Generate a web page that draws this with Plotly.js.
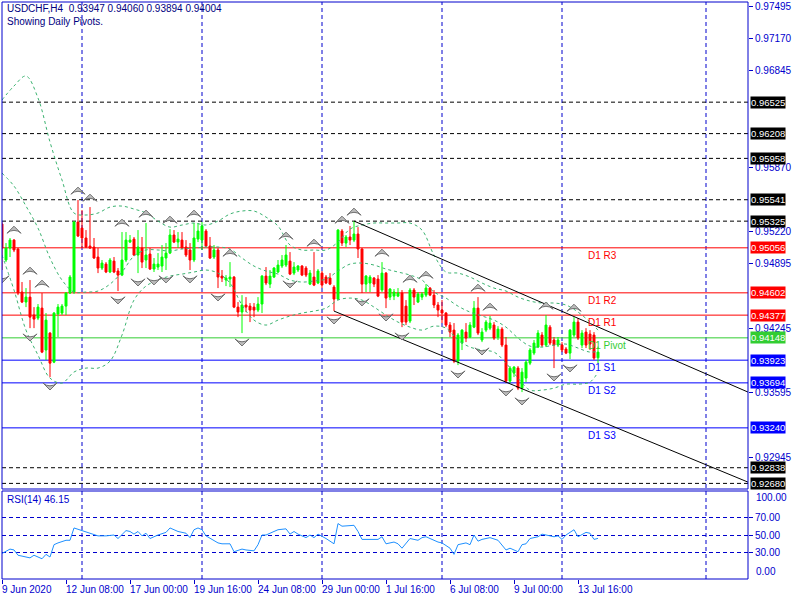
<!DOCTYPE html>
<html><head><meta charset="utf-8">
<script src="https://cdn.plot.ly/plotly-3.0.1.min.js"></script>
<style>html,body{margin:0;padding:0;background:#fff;}#chart{width:800px;height:600px;}</style>
</head><body><div id="chart"></div>
<script>
// ---------------- DATA ----------------
const symbolTitle = "USDCHF,H4";
const lastOHLC = ["0.93947", "0.94060", "0.93894", "0.94004"];
const subTitle = "Showing Daily Pivots.";
const rsiTitle = "RSI(14) 46.15";

const openP = [0.95296,0.94933,0.95054,0.95134,0.95044,0.94610,0.94509,0.94559,0.94378,0.94347,
0.94448,0.94025,0.94196,0.93903,0.94388,0.94398,0.94468,0.94600,0.94610,0.95316,
0.95255,0.95155,0.95074,0.95064,0.94963,0.94852,0.94892,0.94812,0.94922,0.94822,
0.94781,0.94933,0.95114,0.95144,0.94983,0.95054,0.94933,0.94993,0.94842,0.94862,
0.94872,0.94953,0.95003,0.95185,0.95114,0.95134,0.95064,0.95034,0.94933,0.95144,
0.95134,0.95225,0.95074,0.94963,0.95034,0.94771,0.94731,0.94741,0.94761,0.94458,
0.94408,0.94479,0.94468,0.94458,0.94428,0.94489,0.94771,0.94690,0.94761,0.94812,
0.94872,0.94882,0.94922,0.94801,0.94832,0.94872,0.94852,0.94690,0.94761,0.94701,
0.94801,0.94761,0.94751,0.94660,0.94539,0.95225,0.95104,0.95165,0.95134,0.95195,
0.95044,0.94690,0.94701,0.94751,0.94741,0.94630,0.94801,0.94559,0.94569,0.94569,
0.94600,0.94468,0.94317,0.94630,0.94509,0.94559,0.94579,0.94650,0.94579,0.94479,
0.94428,0.94398,0.94277,0.94226,0.93913,0.94095,0.94206,0.94156,0.94256,0.94448,
0.94126,0.94226,0.94246,0.94277,0.94156,0.94236,0.94075,0.93712,0.93792,0.93843,
0.93641,0.93742,0.93893,0.93994,0.94055,0.94176,0.94075,0.94256,0.94126,0.94075,
0.94075,0.94035,0.93994,0.94176,0.94307,0.94075,0.94206,0.94186,0.94176,0.93947];

const highP = [0.95316,0.95104,0.95155,0.95144,0.95054,0.94711,0.94650,0.94731,0.94458,0.94489,
0.94600,0.94398,0.94206,0.94408,0.94489,0.94489,0.94610,0.94781,0.95326,0.95538,
0.95437,0.95235,0.95467,0.95155,0.95054,0.94933,0.94912,0.94953,0.94963,0.94852,
0.95215,0.95215,0.95185,0.95165,0.95235,0.95165,0.95306,0.95054,0.94953,0.95003,
0.95084,0.95104,0.95245,0.95235,0.95215,0.95215,0.95134,0.95104,0.95306,0.95306,
0.95316,0.95245,0.95165,0.95084,0.95054,0.94832,0.94781,0.94912,0.94771,0.94509,
0.94579,0.94559,0.94499,0.94499,0.94559,0.94781,0.94862,0.94832,0.94862,0.94933,
0.94983,0.95084,0.95013,0.94912,0.94882,0.94882,0.94872,0.94832,0.95013,0.94842,
0.94822,0.94781,0.94801,0.94680,0.95245,0.95245,0.95185,0.95276,0.95326,0.95265,
0.95054,0.94781,0.94781,0.94761,0.94781,0.94912,0.94812,0.94650,0.94640,0.94650,
0.94630,0.94529,0.94650,0.94650,0.94610,0.94610,0.94690,0.94660,0.94630,0.94509,
0.94529,0.94408,0.94307,0.94297,0.94196,0.94236,0.94297,0.94307,0.94519,0.94559,
0.94246,0.94327,0.94368,0.94307,0.94266,0.94256,0.94156,0.93863,0.93863,0.93863,
0.93843,0.93924,0.94045,0.94126,0.94226,0.94206,0.94378,0.94277,0.94156,0.94156,
0.94105,0.94055,0.94236,0.94357,0.94347,0.94226,0.94246,0.94226,0.94206,0.94060];

const lowP = [0.94832,0.94912,0.94963,0.95013,0.94579,0.94499,0.94458,0.94246,0.94246,0.94327,
0.93994,0.93924,0.93752,0.93893,0.94156,0.94378,0.94378,0.94590,0.94590,0.95165,
0.95054,0.95054,0.95044,0.94943,0.94801,0.94832,0.94801,0.94801,0.94801,0.94620,
0.94771,0.94912,0.95104,0.94973,0.94801,0.94852,0.94852,0.94832,0.94812,0.94832,
0.94812,0.94832,0.94993,0.95104,0.95054,0.95044,0.94963,0.94832,0.94912,0.95114,
0.95034,0.95064,0.94943,0.94943,0.94650,0.94711,0.94670,0.94660,0.94448,0.94357,
0.94196,0.94408,0.94307,0.94357,0.94408,0.94398,0.94680,0.94650,0.94751,0.94801,
0.94852,0.94862,0.94781,0.94781,0.94812,0.94771,0.94761,0.94680,0.94670,0.94690,
0.94650,0.94690,0.94680,0.94418,0.94529,0.95074,0.95064,0.95084,0.95114,0.94953,
0.94600,0.94610,0.94610,0.94660,0.94559,0.94610,0.94448,0.94529,0.94529,0.94559,
0.94256,0.94277,0.94297,0.94479,0.94499,0.94529,0.94559,0.94569,0.94448,0.94357,
0.94297,0.94256,0.94156,0.93893,0.93873,0.94025,0.94105,0.94146,0.94246,0.94176,
0.94105,0.94206,0.94226,0.94126,0.94126,0.94055,0.93692,0.93692,0.93752,0.93621,
0.93601,0.93702,0.93873,0.93974,0.94045,0.94055,0.94055,0.94075,0.93843,0.94055,
0.94004,0.93984,0.93934,0.94156,0.94126,0.94045,0.94045,0.94025,0.93924,0.93894];

const closeP = [0.95054,0.95054,0.95134,0.95034,0.94600,0.94509,0.94559,0.94357,0.94337,0.94458,
0.94004,0.94327,0.93893,0.94398,0.94458,0.94468,0.94600,0.94761,0.95316,0.95175,
0.95155,0.95064,0.95054,0.94953,0.94852,0.94902,0.94812,0.94933,0.94812,0.94781,
0.94933,0.95134,0.95134,0.94983,0.95064,0.94912,0.94983,0.94842,0.94892,0.94892,
0.94963,0.95003,0.95185,0.95114,0.95144,0.95054,0.94983,0.94933,0.95155,0.95225,
0.95276,0.95074,0.94953,0.95034,0.94761,0.94751,0.94751,0.94761,0.94458,0.94408,
0.94479,0.94458,0.94428,0.94428,0.94489,0.94771,0.94701,0.94771,0.94852,0.94882,
0.94933,0.94983,0.94791,0.94862,0.94872,0.94781,0.94781,0.94801,0.94680,0.94822,
0.94680,0.94701,0.94690,0.94539,0.95235,0.95104,0.95165,0.95134,0.95195,0.95044,
0.94690,0.94771,0.94761,0.94690,0.94569,0.94801,0.94549,0.94640,0.94610,0.94600,
0.94307,0.94307,0.94630,0.94559,0.94590,0.94590,0.94650,0.94579,0.94479,0.94428,
0.94398,0.94277,0.94206,0.93913,0.94176,0.94226,0.94146,0.94277,0.94448,0.94196,
0.94206,0.94307,0.94297,0.94146,0.94236,0.94075,0.93712,0.93843,0.93853,0.93641,
0.93802,0.93903,0.94025,0.94095,0.94196,0.94075,0.94277,0.94095,0.94075,0.94126,
0.94025,0.93994,0.94226,0.94307,0.94146,0.94196,0.94075,0.94085,0.93944,0.94004];

// Bollinger band readings (bar index where read)
const bbBars = [0,3,6,9,12,15,18,21,24,27,30,33,36,39,42,45,48,51,54,57,60,63,66,69,72,75,78,81,84,87,90,93,96,99,102,105,108,111,114,117,120,123,126,129,132,135,138,141,144,147,149];
const bbUpper = [0.96547,0.96688,0.96789,0.96567,0.96123,0.95740,0.95407,0.95387,0.95407,0.95467,0.95477,0.95447,0.95407,0.95326,0.95265,0.95286,0.95306,0.95286,0.95326,0.95397,0.95427,0.95427,0.95366,0.95276,0.95084,0.95034,0.95034,0.95034,0.95114,0.95245,0.95286,0.95306,0.95306,0.95306,0.95306,0.95235,0.94983,0.94812,0.94801,0.94761,0.94701,0.94650,0.94620,0.94559,0.94519,0.94499,0.94499,0.94479,0.94408,0.94307,0.94226];
const bbMiddle = [0.95810,0.95679,0.95477,0.95255,0.94953,0.94731,0.94610,0.94610,0.94620,0.94690,0.94812,0.94973,0.95034,0.95034,0.95024,0.95044,0.95054,0.95064,0.95064,0.95044,0.94953,0.94872,0.94822,0.94791,0.94731,0.94711,0.94721,0.94741,0.94822,0.94892,0.94902,0.94882,0.94842,0.94812,0.94781,0.94731,0.94610,0.94549,0.94468,0.94408,0.94368,0.94327,0.94256,0.94146,0.94065,0.94055,0.94075,0.94085,0.94045,0.94004,0.94014];
const bbLower = [0.94983,0.94630,0.94226,0.93974,0.93742,0.93692,0.93803,0.93843,0.93843,0.93913,0.94176,0.94529,0.94670,0.94731,0.94771,0.94791,0.94812,0.94832,0.94801,0.94701,0.94479,0.94327,0.94277,0.94327,0.94368,0.94398,0.94418,0.94448,0.94529,0.94549,0.94529,0.94458,0.94378,0.94307,0.94256,0.94226,0.94266,0.94246,0.94126,0.94055,0.94025,0.94004,0.93893,0.93742,0.93621,0.93621,0.93641,0.93681,0.93681,0.93702,0.93803];

// Fractal bars
const fractalUpBars = [3,7,10,19,22,30,36,42,48,57,71,78,85,88,95,102,106,119,122,136,143];
const fractalDownBars = [0,7,12,29,34,38,41,47,54,60,72,83,90,96,100,114,120,126,130,138,142];

// Channel trend lines (bar, price)
const chanUpperX = [88, 186.5], chanUpperY = [0.95326, 0.93601];
const chanLowerX = [83, 186.5], chanLowerY = [0.94418, 0.92693];

// RSI(14) readings
const rsiBars = [0,2,3,4,5,7,8,10,11,12,13,14,16,17,18,20,21,24,26,28,29,31,32,33,34,35,36,37,39,41,42,44,46,47,48,49,50,51,54,55,57,58,60,61,63,64,65,66,68,69,71,72,73,74,76,77,78,79,81,83,84,85,88,89,90,92,94,95,96,98,99,100,102,104,105,106,108,109,110,112,113,114,116,117,118,119,120,122,124,126,127,129,130,131,132,134,135,136,138,139,140,141,143,144,146,147,148,149];
const rsiVals = [29,34,33,27,26,24,27,23,28,25,39,41,44,44,58,55,53,49,49,50,46,55,54,51,54,49,52,46,50,53,58,54,52,47,56,58,56,49,41,40,40,31,34,33,32,39,50,50,54,56,57,51,54,51,47,50,47,51,46,40,63,60,61,54,45,45,45,48,40,42,40,35,46,44,47,48,44,42,41,35,28,39,41,39,50,43,45,47,44,33,35,31,39,40,46,48,51,50,48,49,45,50,56,48,53,52,45,46.15];

// Horizontal levels
const levelValues = [0.96525,0.96208,0.95958,0.95541,0.95325,0.95056,0.94602,0.94377,0.94148,0.93923,0.93694,0.93240,0.92838,0.92680];
const levelKinds  = ["other","other","other","other","other","R","R","R","P","S","S","S","other","other"];
const levelNames  = ["","","","","","D1 R3","D1 R2","D1 R1","D1 Pivot","D1 S1","D1 S2","D1 S3","",""];

// Axes (price ticks that stay visible beside the level boxes)
const priceTicks = [0.97495,0.97170,0.96845,0.95870,0.95220,0.94895,0.94245,0.93595,0.92945];
const rsiTicks = [30,50,70];
const rsiEdgeLabels = ["100.00","0.00"];
const timeTickBars = [0,16,32,48,64,80,96,112,128,144];
const timeTickLabels = ["9 Jun 2020","12 Jun 08:00","17 Jun 00:00","19 Jun 16:00","24 Jun 08:00","29 Jun 00:00","1 Jul 16:00","6 Jul 08:00","9 Jul 00:00","13 Jul 16:00"];
const weekGridBars = [20,50,80,110,140,176];

// ---------------- STYLE ----------------
const AX = "#0000cd";
const FONT = "Liberation Sans, Arial, sans-serif";
const kindStyle = {
  other: {line:"#000000", dash:"4px,3px", box:"#000000", text:"#000000"},
  R: {line:"#ff0000", dash:"solid", box:"#ff0000", text:"#ff0000"},
  P: {line:"#32cd32", dash:"solid", box:"#32cd32", text:"#32cd32"},
  S: {line:"#0000ff", dash:"solid", box:"#0000ff", text:"#0000ff"}
};
const FRACTAL_OFFSET = 0.0013;
const bars = openP.map((_, i) => i);

const traces = [];
const bbStyle = {color:"#3cb371", width:1, dash:"3px,3px", shape:"spline"};
[bbUpper, bbMiddle, bbLower].forEach(arr => traces.push({
  type:"scatter", mode:"lines", x:bbBars, y:arr, line:bbStyle, hoverinfo:"skip", xaxis:"x", yaxis:"y"
}));
traces.push({
  type:"candlestick", x:bars, open:openP, high:highP, low:lowP, close:closeP,
  increasing:{line:{color:"#00ff00", width:1}, fillcolor:"#00ff00"},
  decreasing:{line:{color:"#ff0000", width:1}, fillcolor:"#ff0000"},
  whiskerwidth:0, hoverinfo:"skip", xaxis:"x", yaxis:"y"
});
traces.push({type:"scatter", mode:"lines", x:chanUpperX, y:chanUpperY, line:{color:"#000", width:1}, hoverinfo:"skip"});
traces.push({type:"scatter", mode:"lines", x:chanLowerX, y:chanLowerY, line:{color:"#000", width:1}, hoverinfo:"skip"});
traces.push({
  type:"scatter", mode:"markers", x:fractalUpBars, y:fractalUpBars.map(b => highP[b] + FRACTAL_OFFSET),
  marker:{symbol:"arrow-wide", angle:0, size:10, color:"#bdbdbd", line:{color:"#707070", width:1}}, hoverinfo:"skip"
});
traces.push({
  type:"scatter", mode:"markers", x:fractalDownBars, y:fractalDownBars.map(b => lowP[b] - FRACTAL_OFFSET),
  marker:{symbol:"arrow-wide", angle:180, size:10, color:"#bdbdbd", line:{color:"#707070", width:1}}, hoverinfo:"skip"
});
traces.push({type:"scatter", mode:"lines", x:rsiBars, y:rsiVals, line:{color:"#1e90ff", width:1}, xaxis:"x", yaxis:"y2", hoverinfo:"skip"});

const mainBottom = 90/577, rsiTop = 88/577;
const shapes = [];
weekGridBars.forEach(b => shapes.push({type:"line", xref:"x", yref:"paper", x0:b, x1:b, y0:0, y1:1, layer:"below", line:{color:AX, width:1, dash:"4px,3px"}}));
levelValues.forEach((v, i) => {
  const st = kindStyle[levelKinds[i]];
  shapes.push({type:"line", xref:"paper", x0:0, x1:1, yref:"y", y0:v, y1:v, layer:"below", line:{color:st.line, width:1, dash:st.dash}});
});
shapes.push({type:"rect", xref:"paper", yref:"paper", x0:0, x1:1, y0:mainBottom, y1:1, line:{color:AX, width:1}});
shapes.push({type:"rect", xref:"paper", yref:"paper", x0:0, x1:1, y0:0, y1:rsiTop, line:{color:AX, width:1}});

const annotations = [];
levelValues.forEach((v, i) => {
  const st = kindStyle[levelKinds[i]];
  annotations.push({xref:"paper", x:1, xanchor:"left", xshift:2, yref:"y", y:v, yanchor:"middle",
    text:v.toFixed(5), showarrow:false, bgcolor:st.box, borderpad:0, font:{family:FONT, size:9.5, color:"#ffffff"}});
  if (levelNames[i]) annotations.push({xref:"x", x:146, xanchor:"left", yref:"y", y:v, yanchor:"top",
    text:levelNames[i], showarrow:false, font:{family:FONT, size:10, color:st.text}});
});
annotations.push({xref:"paper", yref:"paper", x:0, y:1, xanchor:"left", yanchor:"top", xshift:3, yshift:1, align:"left",
  text:symbolTitle + "&nbsp; " + lastOHLC.join(" ") + "<br>" + subTitle, showarrow:false, font:{family:FONT, size:10, color:"#000080"}});
annotations.push({xref:"paper", yref:"paper", x:0, y:rsiTop, xanchor:"left", yanchor:"top", xshift:3, yshift:-1,
  text:rsiTitle, showarrow:false, font:{family:FONT, size:10, color:AX}});
// time labels, left-aligned at their ticks
timeTickBars.forEach((b, i) => annotations.push({xref:"x", x:b, xanchor:"left", xshift:-2, yref:"paper", y:0, yanchor:"top", yshift:-3,
  text:timeTickLabels[i], showarrow:false, font:{family:FONT, size:10, color:AX}}));
// RSI edge labels (drawn inside the panel like the terminal does)
annotations.push({xref:"paper", x:1, xanchor:"left", xshift:6, yref:"paper", y:rsiTop, yanchor:"top", yshift:1,
  text:rsiEdgeLabels[0], showarrow:false, font:{family:FONT, size:10, color:AX}});
annotations.push({xref:"paper", x:1, xanchor:"left", xshift:6, yref:"paper", y:0, yanchor:"bottom", yshift:0,
  text:rsiEdgeLabels[1], showarrow:false, font:{family:FONT, size:10, color:AX}});

const layout = {
  width:800, height:600, margin:{l:2, r:52, t:2, b:21},
  paper_bgcolor:"#ffffff", plot_bgcolor:"#ffffff", showlegend:false,
  font:{family:FONT, size:10, color:AX},
  xaxis:{domain:[0,1], range:[0,186.5], anchor:"y2", rangeslider:{visible:false}, showgrid:false, zeroline:false, showline:false,
    tickmode:"array", tickvals:timeTickBars, ticktext:timeTickBars.map(() => ""), ticks:"outside", ticklen:4, tickcolor:AX,
    fixedrange:true},
  yaxis:{domain:[mainBottom,1], range:[0.926235,0.975353], side:"right", anchor:"x",
    tickmode:"array", tickvals:priceTicks, ticktext:priceTicks.map(v => v.toFixed(5)), ticks:"outside", ticklen:4, tickcolor:AX,
    showgrid:false, zeroline:false, showline:false, tickfont:{family:FONT, size:10, color:AX}, fixedrange:true},
  yaxis2:{domain:[0,rsiTop], range:[0,100], side:"right", anchor:"x",
    tickmode:"array", tickvals:rsiTicks, ticktext:rsiTicks.map(v => v.toFixed(2)), ticks:"outside", ticklen:4, tickcolor:AX,
    showgrid:true, gridcolor:AX, gridwidth:1, griddash:"4px,3px", zeroline:false, showline:false,
    tickfont:{family:FONT, size:10, color:AX}, fixedrange:true},
  shapes:shapes, annotations:annotations
};
Plotly.newPlot("chart", traces, layout, {staticPlot:true, displayModeBar:false});
</script></body></html>
